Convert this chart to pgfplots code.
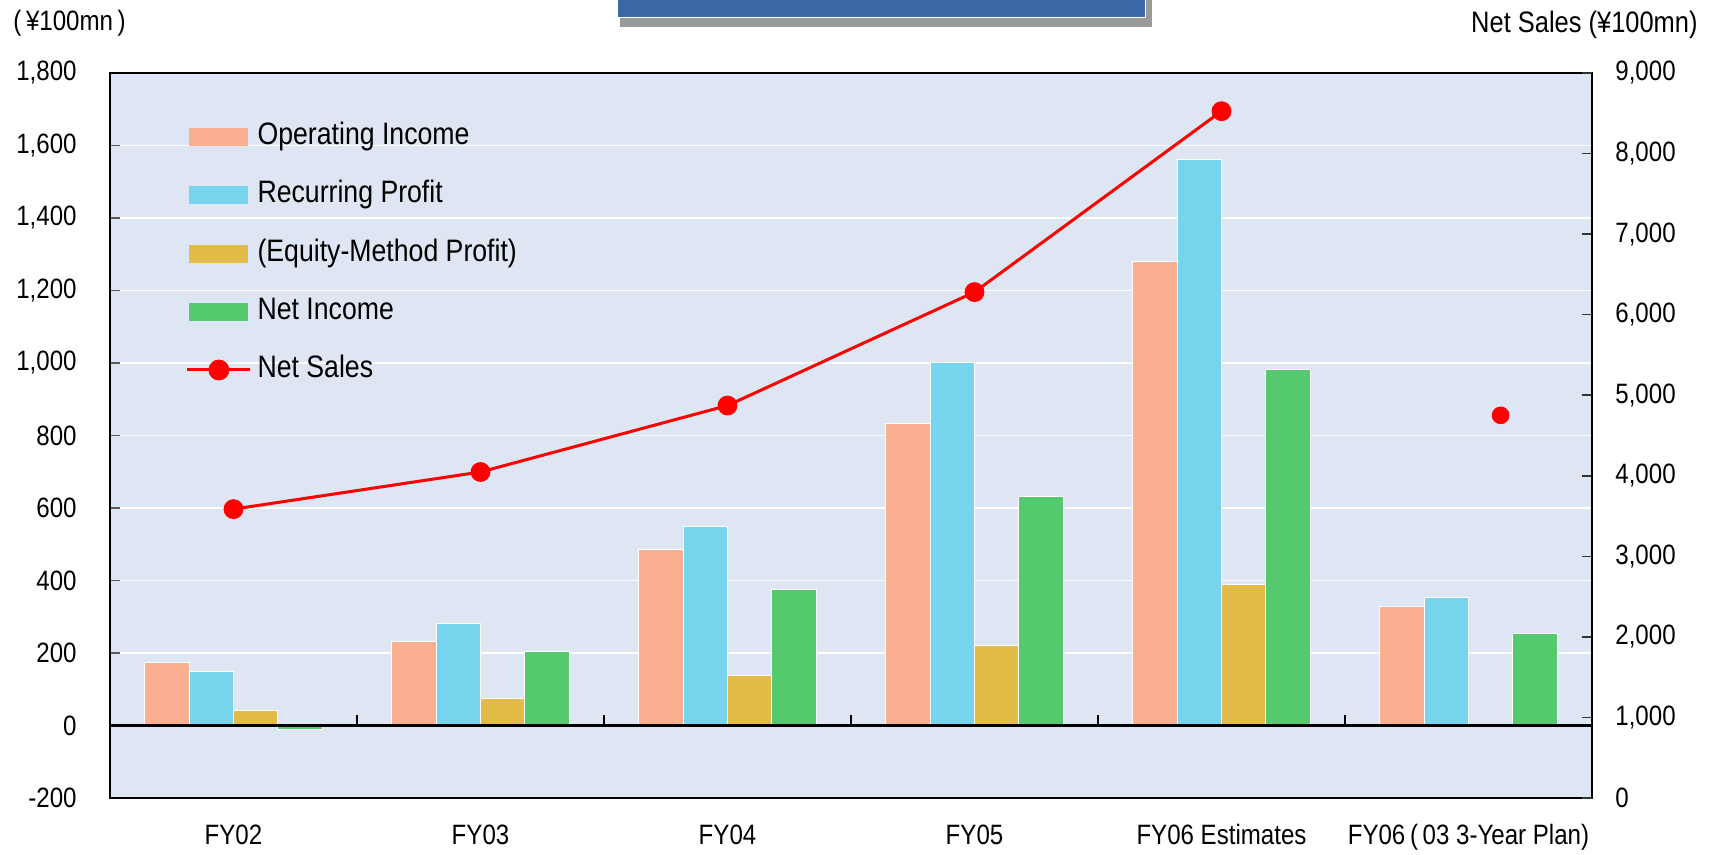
\documentclass[border=0pt]{standalone}
\usepackage{pgfplots}
\pgfplotsset{compat=1.18}
\usepackage{fontspec}
\setmainfont{Liberation Sans}[FakeStretch=0.86]
\definecolor{bgc}{HTML}{DDE6F2}
\definecolor{oc}{HTML}{FAAF91}
\definecolor{bc}{HTML}{76D4EC}
\definecolor{yc}{HTML}{E2BB49}
\definecolor{gc}{HTML}{54C96E}
\definecolor{tb}{HTML}{3C69A6}
\newcommand{\tickfont}{\fontsize{14bp}{16bp}\selectfont}
\begin{document}
\begin{tikzpicture}
\begin{axis}[
 at={(55bp,28.5bp)}, anchor=south west,
 width=741bp, height=362.5bp, scale only axis,
 xmin=-0.5, xmax=5.5, ymin=-200, ymax=1800,
 axis background/.style={fill=bgc},
 axis line style={black, line width=1bp},
 ybar=0pt, bar width=0.18,
 xtick={0,...,5},
 xticklabels={FY02,FY03,FY04,FY05,FY06 Estimates,{FY06\,(\,03 3-Year Plan)}},
 x tick style={draw=none},
 xticklabel style={anchor=base, yshift=-23.5bp, font=\tickfont},
 ytick={-200,0,200,400,600,800,1000,1200,1400,1600,1800},
 yticklabels={-200,0,200,400,600,800,{1,000},{1,200},{1,400},{1,600},{1,800}},
 ytick pos=left, tick align=inside,
 y tick style={gray!70!black, line width=0.8bp}, major tick length=5bp,
 yticklabel style={anchor=east, inner sep=0pt, xshift=-16.5bp, font=\tickfont},
 ymajorgrids, grid style={white, line width=0.8bp},
 legend style={draw=none, fill=none, at={(0.0533,0.932)}, anchor=north west, inner sep=0pt,
   row sep=14.6bp, column sep=4.6bp, font=\fontsize{15.5bp}{18bp}\selectfont,
   nodes={text height=11bp, text depth=3.5bp, inner sep=0pt}},
 legend cell align=left,
]
\addplot[fill=oc, draw=white, line width=0.5bp, legend image code/.code={\fill[oc] (0bp,-4.25bp) rectangle (29bp,4.25bp);}]
 coordinates {(0,173)(1,233)(2,486)(3,832)(4,1280)(5,329)};
\addlegendentry{Operating Income}
\addplot[fill=bc, draw=white, line width=0.5bp, legend image code/.code={\fill[bc] (0bp,-4.25bp) rectangle (29bp,4.25bp);}]
 coordinates {(0,149)(1,282)(2,549)(3,1000)(4,1560)(5,353)};
\addlegendentry{Recurring Profit}
\addplot[fill=yc, draw=white, line width=0.5bp, legend image code/.code={\fill[yc] (0bp,-4.25bp) rectangle (29bp,4.25bp);}]
 coordinates {(0,40)(1,74)(2,137)(3,221)(4,390)};
\addlegendentry{(Equity-Method Profit)}
\addplot[fill=gc, draw=white, line width=0.5bp, legend image code/.code={\fill[gc] (0bp,-4.25bp) rectangle (29bp,4.25bp);}]
 coordinates {(0,-10)(1,203)(2,375)(3,633)(4,982)(5,254)};
\addlegendentry{Net Income}
\addlegendimage{legend image code/.code={\path[draw=none, fill=none] (0bp,-4.25bp) rectangle (29bp,4.25bp); \draw[red, line width=1.5bp, overlay] (-1.25bp,0bp) -- (30.25bp,0bp); \fill[red, overlay] (14.5bp,0bp) circle (5bp);}}
\addlegendentry{Net Sales}
\draw[black, line width=1.2bp] (axis cs:-0.5,0) -- (axis cs:5.5,0);
\pgfplotsinvokeforeach{0.5,1.5,2.5,3.5,4.5}{\draw[black, line width=1bp] (axis cs:#1,0) -- ++(0pt,5bp);}
\end{axis}
\begin{axis}[
 at={(55bp,28.5bp)}, anchor=south west,
 width=741bp, height=362.5bp, scale only axis,
 xmin=-0.5, xmax=5.5, ymin=0, ymax=9000,
 axis x line=none, axis y line*=right,
 axis line style={black, line width=1bp},
 ytick={0,1000,2000,3000,4000,5000,6000,7000,8000,9000},
 yticklabels={0,{1,000},{2,000},{3,000},{4,000},{5,000},{6,000},{7,000},{8,000},{9,000}},
 tick align=inside, major tick length=5bp,
 y tick style={black!80, line width=0.8bp},
 yticklabel style={anchor=west, inner sep=0pt, xshift=11.5bp, font=\tickfont},
 clip=false,
]
\addplot[red, line width=1.5bp, mark=*, mark size=4.2bp, mark options={solid, fill=red, draw=red}]
 coordinates {(0,3586)(1,4047)(2,4872)(3,6280)(4,8526)};
\addplot[only marks, mark=*, mark size=4.2bp, mark options={fill=red, draw=red}]
 coordinates {(5.13,4750)};
\end{axis}
\fill[gray!80] (310bp,414bp) rectangle (576bp,440bp);
\fill[tb] (308.5bp,418.5bp) rectangle (573bp,440bp);
\draw[white, line width=0.6bp] (308.8bp,440bp) -- (308.8bp,418.8bp) -- (572.7bp,418.8bp) -- (572.7bp,440bp);
\node[anchor=west, inner sep=0pt, font=\tickfont] at (6.5bp,416bp) {(\,¥100mn\,)};
\node[anchor=east, inner sep=0pt, font=\fontsize{14.8bp}{17bp}\selectfont] at (849bp,415bp) {Net Sales (¥100mn)};
\pgfresetboundingbox
\path[use as bounding box] (0,0) rectangle (855bp,427.5bp);
\end{tikzpicture}
\end{document}
